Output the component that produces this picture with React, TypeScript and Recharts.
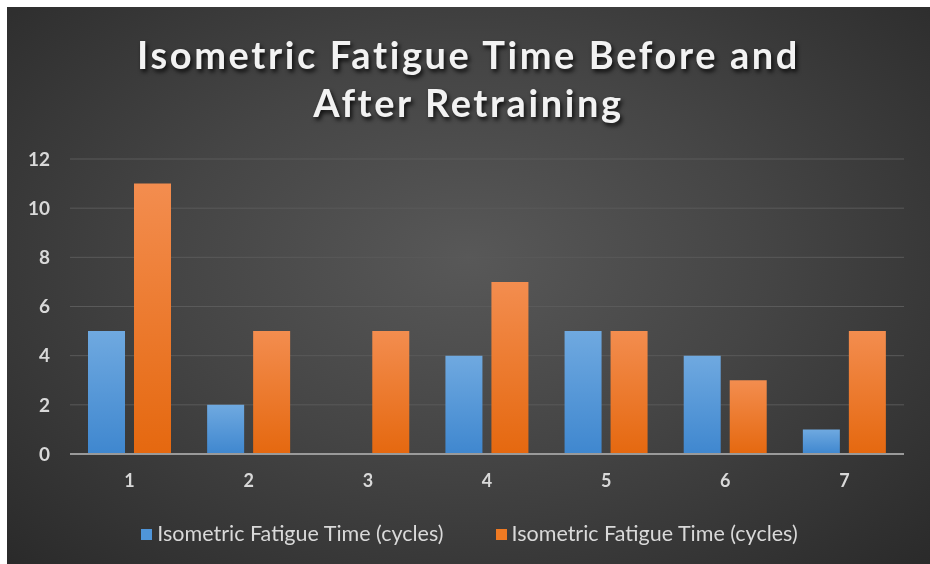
import React from "react";
import { BarChart, Bar, XAxis, YAxis, CartesianGrid, Legend } from "recharts";

const categories = ["1", "2", "3", "4", "5", "6", "7"];
const beforeValues = [5, 2, 0, 4, 5, 4, 1];
const afterValues = [11, 5, 5, 7, 5, 3, 5];
const yTicks = [0, 2, 4, 6, 8, 10, 12];
const seriesNames = ["Isometric Fatigue Time (cycles)", "Isometric Fatigue Time (cycles)"];

const data = categories.map((c, i) => ({ cat: c, before: beforeValues[i], after: afterValues[i] }));

const W = 923;
const H = 557;

const renderLegend = () => (
  <div style={{ display: "flex", justifyContent: "center", gap: 52, fontFamily: "Lato, sans-serif", fontSize: 21.5, color: "#d9d9d9", paddingLeft: 2 }}>
    {[{ c: "#4f95d9", n: seriesNames[0] }, { c: "#ef7a23", n: seriesNames[1] }].map((s, i) => (
      <div key={i} style={{ display: "flex", alignItems: "center" }}>
        <span style={{ display: "inline-block", width: 11, height: 11, background: s.c, marginRight: 5, marginTop: 3 }} />
        <span>{s.n}</span>
      </div>
    ))}
  </div>
);

export default function App() {
  return (
    <div
      style={{
        position: "fixed",
        top: 7,
        left: 7,
        width: W,
        height: H,
        background: "radial-gradient(ellipse at 50% 45%, #585858 0%, #454545 45%, #2a2a2a 100%)",
        overflow: "hidden",
      }}
    >
      <div
        style={{
          position: "absolute",
          top: 23,
          left: 0,
          width: W,
          textAlign: "center",
          fontFamily: "Lato, sans-serif",
          fontWeight: 700,
          fontSize: 38,
          lineHeight: "48px",
          letterSpacing: 2.6,
          color: "#f2f2f2",
          textShadow: "2px 3px 4px rgba(0,0,0,0.8)",
        }}
      >
        Isometric Fatigue Time Before and
        <br />
        After Retraining
      </div>
      <BarChart
        width={W}
        height={H}
        data={data}
        margin={{ top: 152, right: 26, left: 0, bottom: 54 }}
        barSize={37}
        barGap={9}
        style={{ position: "absolute", top: 0, left: 0 }}
      >
        <defs>
          <linearGradient id="gBlue" x1="0" y1="0" x2="0" y2="1">
            <stop offset="0%" stopColor="#6fa9e0" />
            <stop offset="100%" stopColor="#3f87cf" />
          </linearGradient>
          <linearGradient id="gOrange" x1="0" y1="0" x2="0" y2="1">
            <stop offset="0%" stopColor="#f38d4f" />
            <stop offset="100%" stopColor="#e5680f" />
          </linearGradient>
        </defs>
        <CartesianGrid vertical={false} stroke="#5a5a5a" strokeWidth={1} />
        <XAxis
          dataKey="cat"
          axisLine={{ stroke: "#9a9a9a", strokeWidth: 2 }}
          tickLine={false}
          tick={{ fill: "#d9d9d9", fontSize: 18, fontFamily: "Lato, sans-serif", fontWeight: 700 }}
          tickMargin={14}
          height={30}
        />
        <YAxis
          ticks={yTicks}
          domain={[0, 12]}
          width={63}
          axisLine={false}
          tickLine={false}
          interval={0}
          tick={{ fill: "#d9d9d9", fontSize: 19, fontFamily: "Lato, sans-serif", fontWeight: 700 }}
          tickMargin={14}
        />
        <Legend content={renderLegend} verticalAlign="bottom" wrapperStyle={{ bottom: 18, left: 0, width: W }} />
        <Bar dataKey="before" name={seriesNames[0]} fill="url(#gBlue)" isAnimationActive={false} />
        <Bar dataKey="after" name={seriesNames[1]} fill="url(#gOrange)" isAnimationActive={false} />
      </BarChart>
    </div>
  );
}
